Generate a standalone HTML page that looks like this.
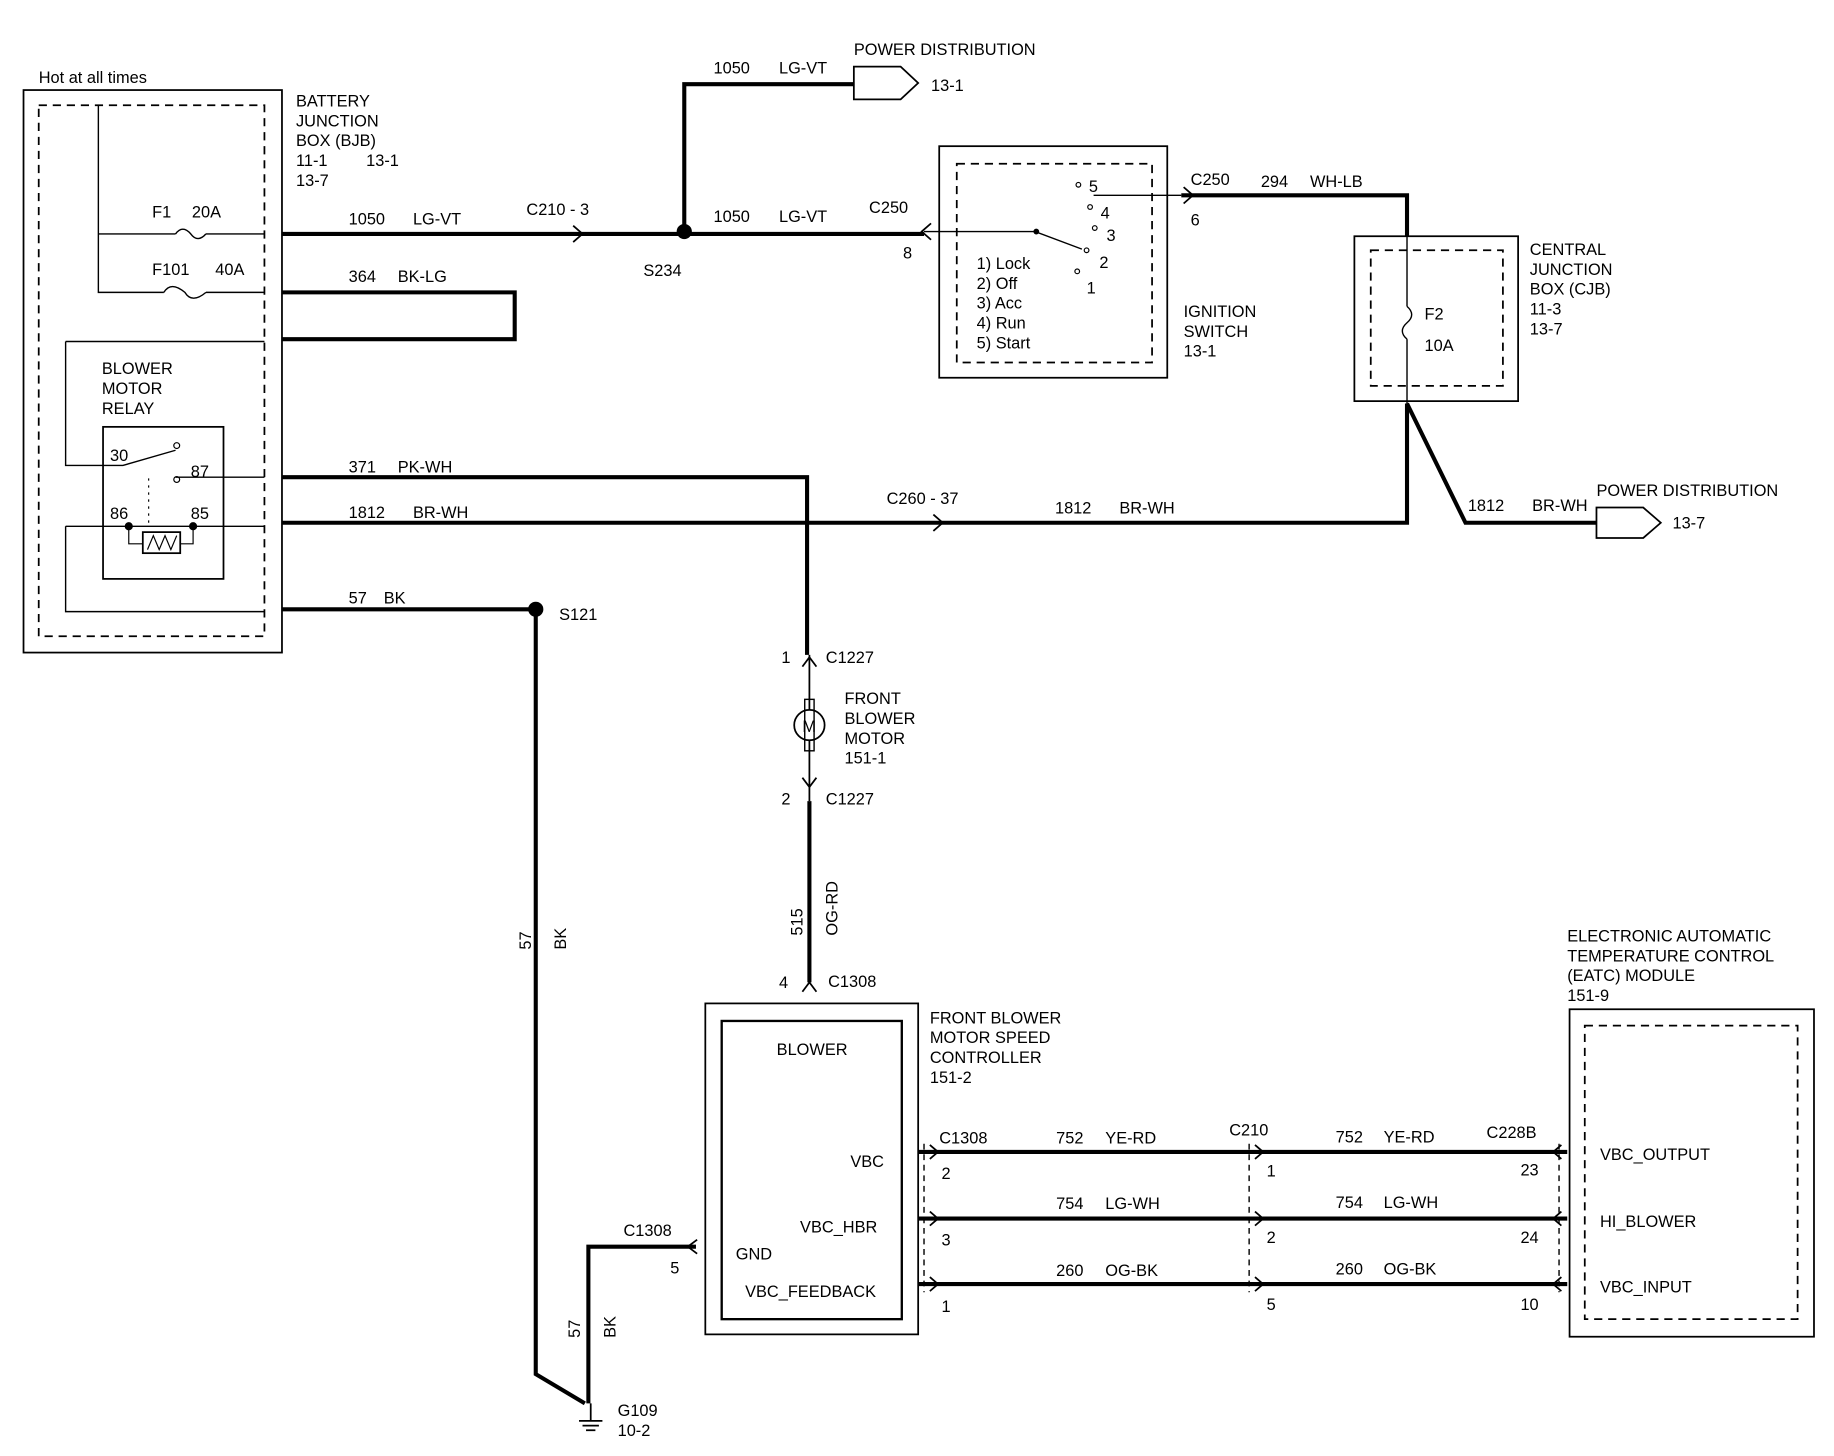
<!DOCTYPE html>
<html><head><meta charset="utf-8"><style>
html,body{margin:0;padding:0;background:#fff;}
svg{display:block}
text{font-family:"Liberation Sans",sans-serif;font-size:14px;fill:#000;}
</style></head><body>
<svg width="1834" height="1456" viewBox="0 0 1568 1245" xmlns="http://www.w3.org/2000/svg">
<g fill="none" stroke="#000">
<!-- BJB -->
<rect x="20" y="77" width="221" height="481" stroke-width="1.5"/>
<rect x="33" y="90" width="193" height="454" stroke-width="1.5" stroke-dasharray="7,5"/>
<path d="M84 90 V250 H140 M84 200 H150 M176 200 H226 M176 250 H226" stroke-width="1.2"/>
<path d="M150 200 q6 -8 13 0 q6 8 13 0" stroke-width="1.2"/>
<path d="M140 250 q6 -10 18 0 q6 10 18 0" stroke-width="1.2"/>
<!-- relay -->
<path d="M56 292 H226 M56 292 V398 H105 L150 385 M150 408 H226 M56 450 V523 H226 M56 450 H226" stroke-width="1.2"/>
<rect x="88" y="365" width="103" height="130" stroke-width="1.5"/>
<circle cx="151" cy="381" r="2.5"/><circle cx="151" cy="410" r="2.5"/>
<path d="M127 409 V448" stroke-dasharray="2,4"/>
<circle cx="110" cy="450" r="3" fill="#000"/><circle cx="165" cy="450" r="3" fill="#000"/>
<path d="M110 450 V465 H122 M165 450 V465 H154"/>
<rect x="122" y="455" width="32" height="18" stroke-width="1.5"/>
<path d="M126 470 l5 -12 l5 12 l5 -12 l5 12 l5 -12"/>
<!-- thick wires -->
<g stroke-width="3.5">
<path d="M241 200 H790"/>
<path d="M585 198 V72 H730"/>
<path d="M241 250 H440 V290 H241"/>
<path d="M241 408 H690 V560"/>
<path d="M241 447 H1203 V345"/>
<path d="M241 521 H458 V1175 L500 1200"/>
<path d="M1010 167 H1203 V202"/>
<path d="M1203 345 L1253 447 H1365"/>
<path d="M692 685 V840"/>
<path d="M595 1066 H503 V1200"/>
<path d="M785 985 H1340 M785 1042 H1340 M785 1098 H1340"/>
</g>
<path d="M1203 202 V262 M1203 290 V345" stroke-width="1.2"/>
<path d="M1203 262 q8 7 0 14 q-8 7 0 14" stroke-width="1.2"/>
<!-- arrows -->
<path d="M490 193 l8 7 l-8 7 M798 440 l8 7 l-8 7 M796 191 l-8 7 l8 7 M1012 160 l8 7 l-8 7" stroke-width="1.5"/>
<circle cx="585" cy="198" r="6" fill="#000"/>
<circle cx="458" cy="521" r="6" fill="#000"/>
<!-- power dist -->
<path d="M730 57 H770 L785 71 L770 85 H730 Z" stroke-width="1.5"/>
<path d="M1365 434 H1405 L1420 447 L1405 460 H1365 Z" stroke-width="1.5"/>
<!-- ignition -->
<rect x="803" y="125" width="195" height="198" stroke-width="1.5"/>
<rect x="818" y="140" width="167" height="170" stroke-width="1.5" stroke-dasharray="7,5"/>
<path d="M790 198 H885 L925 213" stroke-width="1.2"/>
<circle cx="886" cy="198" r="2" fill="#000"/>
<circle cx="922" cy="158" r="2"/><circle cx="932" cy="177" r="2"/><circle cx="936" cy="195" r="2"/><circle cx="929" cy="214" r="2"/><circle cx="921" cy="232" r="2"/>
<path d="M935 167 H1010" stroke-width="1.2"/>
<!-- CJB -->
<rect x="1158" y="202" width="140" height="141" stroke-width="1.5"/>
<rect x="1172" y="214" width="113" height="116" stroke-width="1.5" stroke-dasharray="7,5"/>
<!-- motor -->
<path d="M692 560 V607 M692 633 V685" stroke-width="1.5"/>
<path d="M686 570 l6 -8 l6 8 M686 665 l6 8 l6 -8 M686 848 l6 -8 l6 8" stroke-width="1.5"/>
<circle cx="692" cy="620" r="13" stroke-width="1.5"/>
<rect x="688" y="598" width="8" height="44" stroke-width="1.2"/>
<!-- speed controller -->
<rect x="603" y="858" width="182" height="283" stroke-width="1.5"/>
<rect x="617" y="873" width="154" height="255" stroke-width="2"/>
<path d="M596 1060 l-8 6 l8 6" stroke-width="1.5"/>
<path d="M790 978 V1105 M1068 978 V1105 M1333 978 V1105" stroke-width="1.2" stroke-dasharray="5,4"/>
<path d="M795 979 l7 6 l-7 6 M795 1036 l7 6 l-7 6 M795 1092 l7 6 l-7 6 M1073 979 l7 6 l-7 6 M1073 1036 l7 6 l-7 6 M1073 1092 l7 6 l-7 6 M1335 979 l-7 6 l7 6 M1335 1036 l-7 6 l7 6 M1335 1092 l-7 6 l7 6" stroke-width="1.5"/>
<!-- EATC -->
<rect x="1342" y="863" width="209" height="280" stroke-width="1.5"/>
<rect x="1355" y="877" width="182" height="251" stroke-width="1.5" stroke-dasharray="7,5"/>
<!-- ground -->
<path d="M505 1200 V1215 M495 1215 H515 M498 1219 H512 M501 1223 H509" stroke-width="1.5"/>
</g>
<g>
<text x="33" y="71">Hot at all times</text>
<text x="253" y="91">BATTERY</text><text x="253" y="108">JUNCTION</text><text x="253" y="125">BOX (BJB)</text>
<text x="253" y="142">11-1</text><text x="313" y="142">13-1</text><text x="253" y="159">13-7</text>
<text x="130" y="186">F1</text><text x="164" y="186">20A</text>
<text x="130" y="235">F101</text><text x="184" y="235">40A</text>
<text x="87" y="320">BLOWER</text><text x="87" y="337">MOTOR</text><text x="87" y="354">RELAY</text>
<text x="94" y="394">30</text><text x="163" y="408">87</text><text x="94" y="444">86</text><text x="163" y="444">85</text>
<text x="298" y="192">1050</text><text x="353" y="192">LG-VT</text><text x="450" y="184">C210  -  3</text>
<text x="298" y="241">364</text><text x="340" y="241">BK-LG</text>
<text x="298" y="404">371</text><text x="340" y="404">PK-WH</text>
<text x="298" y="443">1812</text><text x="353" y="443">BR-WH</text>
<text x="298" y="516">57</text><text x="328" y="516">BK</text>
<text x="478" y="530">S121</text>
<text x="550" y="236">S234</text>
<text x="610" y="63">1050</text><text x="666" y="63">LG-VT</text>
<text x="730" y="47">POWER DISTRIBUTION</text><text x="796" y="78">13-1</text>
<text x="610" y="190">1050</text><text x="666" y="190">LG-VT</text>
<text x="743" y="182">C250</text><text x="772" y="221">8</text>
<text x="835" y="230">1) Lock</text><text x="835" y="247">2) Off</text><text x="835" y="264">3) Acc</text><text x="835" y="281">4) Run</text><text x="835" y="298">5) Start</text>
<text x="931" y="164">5</text><text x="941" y="187">4</text><text x="946" y="206">3</text><text x="940" y="229">2</text><text x="929" y="251">1</text>
<text x="1012" y="271">IGNITION</text><text x="1012" y="288">SWITCH</text><text x="1012" y="305">13-1</text>
<text x="1018" y="158">C250</text><text x="1018" y="193">6</text>
<text x="1078" y="160">294</text><text x="1120" y="160">WH-LB</text>
<text x="1308" y="218">CENTRAL</text><text x="1308" y="235">JUNCTION</text><text x="1308" y="252">BOX (CJB)</text><text x="1308" y="269">11-3</text><text x="1308" y="286">13-7</text>
<text x="1218" y="273">F2</text><text x="1218" y="300">10A</text>
<text x="758" y="431">C260  -  37</text>
<text x="902" y="439">1812</text><text x="957" y="439">BR-WH</text>
<text x="1255" y="437">1812</text><text x="1310" y="437">BR-WH</text>
<text x="1365" y="424">POWER DISTRIBUTION</text><text x="1430" y="452">13-7</text>
<text x="668" y="567">1</text><text x="706" y="567">C1227</text>
<text x="722" y="602">FRONT</text><text x="722" y="619">BLOWER</text><text x="722" y="636">MOTOR</text><text x="722" y="653">151-1</text>
<text x="686" y="626">M</text>
<text x="668" y="688">2</text><text x="706" y="688">C1227</text>
<text transform="translate(686,800) rotate(-90)">515</text>
<text transform="translate(716,800) rotate(-90)">OG-RD</text>
<text transform="translate(454,812) rotate(-90)">57</text>
<text transform="translate(484,812) rotate(-90)">BK</text>
<text transform="translate(496,1144) rotate(-90)">57</text>
<text transform="translate(526,1144) rotate(-90)">BK</text>
<text x="666" y="845">4</text><text x="708" y="844">C1308</text>
<text x="795" y="875">FRONT BLOWER</text><text x="795" y="892">MOTOR SPEED</text><text x="795" y="909">CONTROLLER</text><text x="795" y="926">151-2</text>
<text x="664" y="902">BLOWER</text>
<text x="727" y="998">VBC</text><text x="684" y="1054">VBC_HBR</text><text x="629" y="1077">GND</text><text x="637" y="1109">VBC_FEEDBACK</text>
<text x="533" y="1057">C1308</text><text x="573" y="1089">5</text>
<text x="803" y="978">C1308</text><text x="805" y="1008">2</text><text x="805" y="1065">3</text><text x="805" y="1122">1</text>
<text x="903" y="978">752</text><text x="945" y="978">YE-RD</text>
<text x="903" y="1034">754</text><text x="945" y="1034">LG-WH</text>
<text x="903" y="1091">260</text><text x="945" y="1091">OG-BK</text>
<text x="1051" y="971">C210</text><text x="1083" y="1006">1</text><text x="1083" y="1063">2</text><text x="1083" y="1120">5</text>
<text x="1142" y="977">752</text><text x="1183" y="977">YE-RD</text>
<text x="1142" y="1033">754</text><text x="1183" y="1033">LG-WH</text>
<text x="1142" y="1090">260</text><text x="1183" y="1090">OG-BK</text>
<text x="1271" y="973">C228B</text><text x="1300" y="1005">23</text><text x="1300" y="1063">24</text><text x="1300" y="1120">10</text>
<text x="1340" y="805">ELECTRONIC AUTOMATIC</text><text x="1340" y="822">TEMPERATURE CONTROL</text><text x="1340" y="839">(EATC) MODULE</text><text x="1340" y="856">151-9</text>
<text x="1368" y="992">VBC_OUTPUT</text><text x="1368" y="1049">HI_BLOWER</text><text x="1368" y="1105">VBC_INPUT</text>
<text x="528" y="1211">G109</text><text x="528" y="1228">10-2</text>
</g>
</svg>
</body></html>
